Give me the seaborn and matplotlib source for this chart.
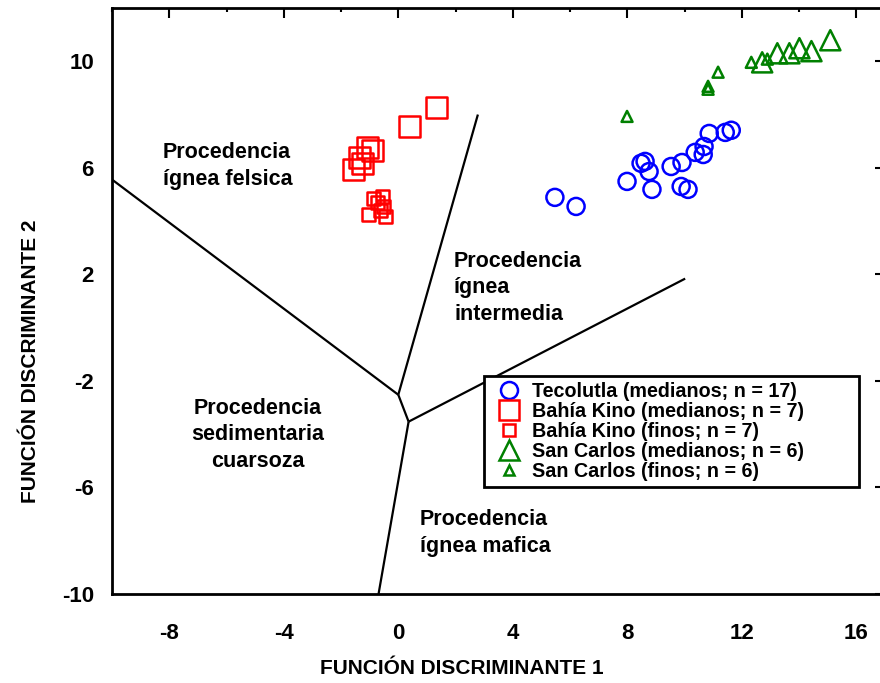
import numpy as np
import pandas as pd
import matplotlib
matplotlib.use("Agg")
import matplotlib.pyplot as plt
from matplotlib.lines import Line2D
import seaborn as sns

sns.set_theme(style="white")
plt.rcParams["font.family"] = ["Liberation Sans", "DejaVu Sans"]
plt.rcParams["font.weight"] = "bold"
plt.rcParams["axes.unicode_minus"] = False
for key in ["text.color", "axes.labelcolor", "xtick.color", "ytick.color", "axes.edgecolor"]:
    plt.rcParams[key] = "black"

# Discriminant function scores per sample group
tec_f1 = [5.47, 6.21, 7.99, 8.48, 8.62, 8.76, 8.86, 9.53, 9.91, 9.88, 10.12, 10.37, 10.65, 10.68, 10.86, 11.42, 11.63]
tec_f2 = [4.89, 4.55, 5.49, 6.17, 6.24, 5.86, 5.19, 6.05, 6.20, 5.30, 5.19, 6.58, 6.50, 6.80, 7.29, 7.33, 7.41]

bk_med_f1 = [1.34, 0.40, -1.07, -0.90, -1.25, -1.56, -1.35]
bk_med_f2 = [8.27, 7.56, 6.77, 6.65, 6.17, 5.94, 6.39]

bk_fin_f1 = [-0.55, -0.72, -0.51, -0.86, -1.04, -0.44, -0.62]
bk_fin_f2 = [4.92, 4.70, 4.55, 4.85, 4.25, 4.17, 4.40]

sc_med_f1 = [15.09, 14.43, 14.01, 13.66, 13.24, 12.71]
sc_med_f2 = [10.79, 10.38, 10.49, 10.30, 10.30, 9.96]

sc_fin_f1 = [7.99, 10.82, 10.82, 11.17, 12.33, 12.89]
sc_fin_f2 = [7.93, 9.06, 8.95, 9.59, 9.96, 10.08]

# Field boundaries (provenance discrimination diagram)
boundaries = [
    ([-10.0, 0.0], [5.56, -2.52]),
    ([0.0, 2.78], [-2.52, 8.0]),
    ([0.0, 0.36], [-2.52, -3.53]),
    ([0.36, 10.02], [-3.53, 1.84]),
    ([0.36, -0.69], [-3.53, -10.0]),
]

groups = [
    ("Tecolutla (medianos; n = 17)", tec_f1, tec_f2, "o", 150, "#0000ff"),
    ("Bahía Kino (medianos; n = 7)", bk_med_f1, bk_med_f2, "s", 225, "#ff0000"),
    ("Bahía Kino (finos; n = 7)", bk_fin_f1, bk_fin_f2, "s", 85, "#ff0000"),
    ("San Carlos (medianos; n = 6)", sc_med_f1, sc_med_f2, "^", 210, "#008000"),
    ("San Carlos (finos; n = 6)", sc_fin_f1, sc_fin_f2, "^", 62, "#008000"),
]

fig = plt.figure(figsize=(8.8, 6.83), dpi=100)
ax = fig.add_axes([112 / 880, 1 - 594 / 683, 773 / 880, 586 / 683])

for xs, ys in boundaries:
    ax.plot(xs, ys, color="black", lw=1.6, solid_capstyle="butt", zorder=1)

for label, fx, fy, mk, size, col in groups:
    df = pd.DataFrame({"f1": fx, "f2": fy})
    sns.scatterplot(data=df, x="f1", y="f2", marker=mk, s=size, facecolors="none",
                    edgecolor=col, linewidth=1.8, ax=ax, zorder=3, legend=False)

ax.set_xlim(-10, 17)
ax.set_ylim(-10, 12)
ax.set_xticks([-8, -4, 0, 4, 8, 12, 16])
ax.set_xticks(np.arange(-10, 17, 2), minor=True)
ax.set_yticks([-10, -6, -2, 2, 6, 10])
ax.set_yticks(np.arange(-10, 12, 2), minor=True)
ax.tick_params(which="both", direction="in", top=True, right=True, color="black")
ax.tick_params(which="major", length=7, width=1.5, labelsize=16)
ax.tick_params(axis="y", which="major", pad=13)
ax.tick_params(axis="x", which="major", pad=21)
ax.tick_params(which="minor", length=3, width=1.5)
for lab in ax.get_xticklabels() + ax.get_yticklabels():
    lab.set_fontweight("bold")
for sp in ax.spines.values():
    sp.set_color("black")
    sp.set_linewidth(2)

ax.set_xlabel("FUNCIÓN DISCRIMINANTE 1", fontsize=15, fontweight="bold")
ax.set_ylabel("FUNCIÓN DISCRIMINANTE 2", fontsize=15, fontweight="bold")
ax.xaxis.set_label_coords(0.453, -0.111)
ax.yaxis.set_label_coords(-0.093, 0.398)

txt = dict(fontsize=15.5, fontweight="bold", color="black", va="center", linespacing=1.36)
ax.text(-8.22, 6.07, "Procedencia\nígnea felsica", ha="left", **txt)
ax.text(1.95, 1.49, "Procedencia\nígnea\nintermedia", ha="left", **txt)
ax.text(-4.90, -4.03, "Procedencia\nsedimentaria\ncuarsoza", ha="center", multialignment="center", **txt)
ax.text(0.76, -7.71, "Procedencia\nígnea mafica", ha="left", **txt)

handles = [
    Line2D([], [], ls="none", marker=mk, markersize=np.sqrt(size), markerfacecolor="none",
           markeredgecolor=col, markeredgewidth=1.8, label=label)
    for label, fx, fy, mk, size, col in groups
]
leg = ax.legend(handles=handles, loc="upper left",
                bbox_to_anchor=(484 / 880, 1 - 487 / 683, 375 / 880, 111 / 683),
                bbox_transform=fig.transFigure, mode="expand",
                frameon=True, fancybox=False, framealpha=1,
                edgecolor="black", prop={"size": 14.2, "weight": "bold"}, labelspacing=0.06,
                handletextpad=0.13, handlelength=2.0, borderpad=0.28, borderaxespad=0)
leg.get_frame().set_linewidth(2)

fig.savefig("out.png", dpi=100)
